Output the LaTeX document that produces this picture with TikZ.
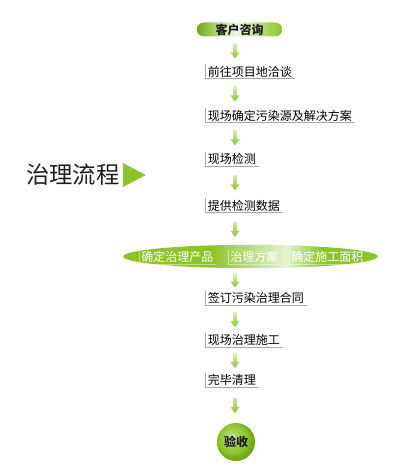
\documentclass[tikz,border=0pt]{standalone}
\usepackage{fontspec}
\setmainfont{Noto Sans CJK SC}
\usetikzlibrary{shapes.misc, shapes.geometric, positioning, calc}

\definecolor{lime}{RGB}{141,196,40}
\definecolor{limedark}{RGB}{112,168,22}
\definecolor{linegray}{RGB}{168,168,168}
\definecolor{inkgray}{RGB}{30,30,30}

% shadings for the green pills and the ball
\pgfdeclarehorizontalshading{askshade}{100bp}{color(0bp)=(limedark); color(25bp)=(limedark); color(37bp)=(lime!65); color(48bp)=(lime!12); color(60bp)=(lime!55); color(75bp)=(lime); color(100bp)=(lime)}
\pgfdeclarehorizontalshading{planshade}{100bp}{color(0bp)=(lime); color(25bp)=(lime); color(42bp)=(lime); color(57bp)=(lime!22); color(64bp)=(lime); color(75bp)=(lime); color(100bp)=(lime)}
\pgfdeclareradialshading{doneshade}{\pgfpoint{-7bp}{7bp}}{color(0bp)=(lime!30); color(7bp)=(lime!75); color(19bp)=(lime); color(25bp)=(limedark); color(50bp)=(limedark)}

\tikzset{
  askpill/.style={rounded rectangle, shading=askshade, minimum width=64pt, minimum height=10.5pt, inner sep=0pt, font=\fontsize{9pt}{10pt}\selectfont\bfseries, text=inkgray},
  planpill/.style={ellipse, shading=planshade, minimum width=191pt, minimum height=17.5pt, inner sep=0pt},
  stepbox/.style={anchor=west, inner xsep=2pt, inner ysep=1.2pt, font=\fontsize{9pt}{10pt}\selectfont, text=black},
  planbox/.style={anchor=west, inner xsep=1.5pt, inner ysep=1.2pt, font=\fontsize{9pt}{10pt}\selectfont, text=white},
  stepline/.style={draw=linegray, line width=0.75pt},
  planline/.style={draw=white, opacity=0.45, line width=0.6pt},
  doneball/.style={circle, shading=doneshade, minimum size=28.5pt, inner sep=0pt, font=\fontsize{9pt}{10pt}\selectfont\bfseries, text=inkgray},
  pointer/.style={isosceles triangle, isosceles triangle stretches, fill=lime, minimum width=18pt, minimum height=17.25pt, inner sep=0pt},
  flowarrow/.style={top color=white, middle color=lime!45, bottom color=lime,
    to path={($(\tikztostart)!0.5!(\tikztotarget)$) ++(0,8) -- ++(-4.5,-6) -- ++(2.5,0) -- ++(0,-9) -- ++(4,0) -- ++(0,9) -- ++(2.5,0) -- cycle}}
}

\begin{document}
\begin{tikzpicture}[x=0.75pt, y=-0.75pt]
\fill[white] (0,0) rectangle (401,474);
\useasboundingbox (0,0) rectangle (401,474);
\coordinate (axis) at (235,0);

% title on the left
\node[anchor=west, inner sep=0pt, font=\fontsize{17.5pt}{18pt}\selectfont, text=inkgray] (title) at (26,175) {治理流程};
\node[pointer, right=2pt of title] (tip) {};

% start and end
\node[askpill] (ask) at (239.5,29.5) {客户咨询};
\node[doneball] (done) at (236,442) {验收};

% steps
\foreach \n/\y/\txt in {s1/71.5/前往项目地洽谈, s2/115.5/现场确定污染源及解决方案, s3/159/现场检测, s4/205.5/提供检测数据, s5/298/签订污染治理合同, s6/340/现场治理施工, s7/380/完毕清理} {
    \node[stepbox] (\n) at (205,\y) {\txt};
    \draw[stepline] (\n.north west) |- (\n.south east);
}

% the wide pill with three items
\node[planpill] (plan) at (250.5,256.5) {};
\foreach \n/\x/\txt in {p1/139/确定治理产品, p2/228/治理方案, p3/289/确定施工面积} {
    \node[planbox] (\n) at (\x,257) {\txt};
    \draw[planline] (\n.north west) |- (\n.south east);
}

% arrows
\foreach \a/\b in {ask/s1, s1/s2, s2/s3, s3/s4, s4/plan, plan/s5, s5/s6, s6/s7, s7/done} {
    \path[flowarrow] (\a.south -| axis) to (\b.north -| axis);
}
\end{tikzpicture}
\end{document}
